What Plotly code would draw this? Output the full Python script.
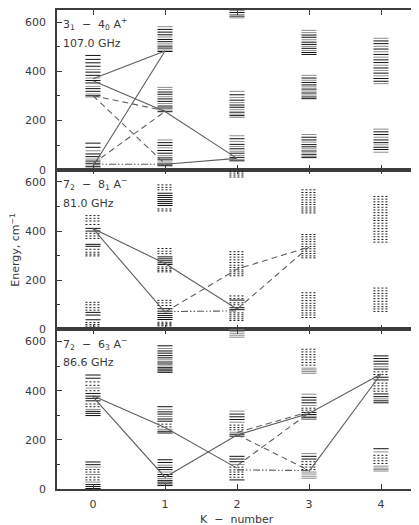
import plotly.graph_objects as go
from plotly.subplots import make_subplots

# ---------------- data ----------------
K_VALUES = [0, 1, 2, 3, 4]
K_LABELS = ["0", "1", "2", "3", "4"]
E_MAJOR = [0, 200, 400, 600]
E_MINOR = [100, 300, 500]
E_LABELS = ["0", "200", "400", "600"]

TITLES = ["3<sub>1</sub>  −  4<sub>0</sub> A<sup>+</sup>",
          "7<sub>2</sub>  −  8<sub>1</sub> A<sup>−</sup>",
          "7<sub>2</sub>  −  6<sub>3</sub> A<sup>−</sup>"]
FREQS = ["107.0 GHz", "81.0 GHz", "86.6 GHz"]

# Panel 1 (107.0 GHz) energy levels, cm^-1, keyed by K
P1_BLACK = {
    0: [465, 449, 435, 421, 397, 384, 363, 353, 330, 319, 301, 108, 91, 64, 53, 35, 26, 12, 5],
    1: [571, 560, 549, 530, 521, 503, 495, 481, 316, 307, 288, 278, 259, 251, 236, 110, 99, 78, 67, 48, 40, 23, 16],
    2: [625, 640, 305, 283, 263, 254, 234, 220, 126, 103, 85, 67, 50, 36],
    3: [548, 539, 519, 510, 494, 477, 469, 373, 355, 345, 328, 312, 296, 289, 132, 121, 102, 93, 76, 61, 49],
    4: [524, 513, 491, 469, 447, 436, 414, 393, 371, 360, 154, 143, 121, 110, 91, 82],
}
P1_GRAY = {
    0: [408, 373, 339, 308, 296, 77, 43, 19],
    1: [582, 540, 512, 487, 335, 326, 297, 269, 243, 121, 89, 57, 31],
    2: [618, 632, 648, 319, 294, 273, 244, 226, 213, 138, 115, 94, 75, 58, 42],
    3: [567, 558, 529, 502, 485, 384, 364, 337, 320, 304, 143, 112, 85, 68, 54],
    4: [535, 502, 480, 458, 425, 404, 382, 350, 165, 132, 101, 71],
}
P1_DOTTED = {}

# Panel 2 (81.0 GHz)
P2_BLACK = {
    0: [411, 400, 346, 338, 69, 58, 39],
    1: [554, 545, 537, 528, 520, 512, 504, 295, 287, 279, 271, 264, 84, 74, 65, 56, 48, 40],
    2: [119, 88, 80],
}
P2_GRAY = {}
P2_DOTTED = {
    0: [463, 452, 441, 427, 391, 380, 370, 326, 314, 306, 299, 110, 100, 88, 78, 28, 20, 13, 7, 2],
    1: [588, 578, 568, 490, 482, 329, 318, 308, 254, 247, 240, 234, 118, 108, 97, 29, 23, 18, 14],
    2: [620, 628, 636, 644, 316, 305, 294, 283, 272, 261, 252, 242, 234, 226, 218,
        136, 125, 108, 100, 67, 59, 51, 43, 36],
    3: [568, 557, 547, 537, 527, 517, 508, 498, 490, 482, 474,
        386, 377, 367, 357, 347, 337, 328, 318, 309, 299, 291,
        149, 138, 128, 117, 106, 96, 87, 77, 67, 58, 48],
    4: [541, 530, 519, 508, 497, 486, 475, 464, 453, 443, 432, 421, 410, 399, 388, 377, 366, 355,
        168, 157, 146, 136, 125, 114, 103, 92, 83, 73],
}

# Panel 3 (86.6 GHz)
P3_BLACK = {
    0: [464, 451, 389, 378, 369, 359, 316, 308, 299, 110, 99, 18, 10, 2],
    1: [583, 562, 553, 543, 534, 517, 509, 494, 488, 481, 475, 335, 314, 305, 285, 276, 235, 228,
        119, 108, 88, 79, 59, 51, 35, 28, 21, 14],
    2: [305, 294, 283, 223, 215, 133, 122, 111, 37],
    3: [373, 362, 351, 312, 303, 290, 133, 122],
    4: [542, 531, 520, 509, 488, 455, 444, 387, 376, 359, 351, 164],
}
P3_GRAY = {
    0: [411, 324, 89, 59, 28],
    1: [572, 526, 501, 324, 295, 243, 97, 69, 43],
    2: [618, 626, 634, 642, 650, 317, 272, 231, 100],
    3: [492, 485, 478, 471, 386, 340, 296, 283, 144, 69, 61, 52, 44],
    4: [498, 367, 151, 93, 85, 79, 73],
}
P3_DOTTED = {
    0: [436, 422, 400, 346, 335, 79, 69, 48, 37],
    1: [264, 253],
    2: [260, 250, 241, 89, 78, 69, 59, 48],
    3: [569, 558, 547, 537, 526, 515, 504, 329, 321, 111, 100, 89, 79],
    4: [477, 466, 431, 420, 408, 398, 137, 126, 115, 104],
}

# transitions: (K path, E path)
P1_SOLID = [([0, 1], [370, 483]), ([0, 1, 2], [362, 237, 46]), ([0, 1], [14, 483]), ([1, 2], [22, 46])]
P1_DASHED = [([0, 1], [301, 240]), ([0, 1], [301, 24]), ([0, 1], [24, 237])]
P1_DASHDOT = [([0, 1], [22, 22])]

P2_SOLID = [([0, 1, 2], [410, 268, 83]), ([0, 1], [410, 70])]
P2_DASHED = [([1, 2, 3], [70, 245, 335]), ([2, 3], [82, 335])]
P2_DASHDOT = [([1, 2], [72, 75])]

P3_SOLID = [([0, 1, 2], [380, 250, 85]), ([0, 1, 2, 3, 4], [375, 48, 220, 307, 468]), ([3, 4], [72, 468])]
P3_DASHED = [([2, 3], [230, 314]), ([2, 3], [222, 75]), ([2, 3], [95, 310])]
P3_DASHDOT = [([2, 3], [78, 75])]

PANELS = [
    (P1_BLACK, P1_GRAY, P1_DOTTED, P1_SOLID, P1_DASHED, P1_DASHDOT),
    (P2_BLACK, P2_GRAY, P2_DOTTED, P2_SOLID, P2_DASHED, P2_DASHDOT),
    (P3_BLACK, P3_GRAY, P3_DOTTED, P3_SOLID, P3_DASHED, P3_DASHDOT),
]

# ---------------- drawing ----------------
HALF = 0.105
FONT = "DejaVu Sans, Verdana, sans-serif"
TXT = "#3a3a3a"
AX = "#3c3c3c"

fig = make_subplots(rows=3, cols=1, shared_xaxes=True, vertical_spacing=0)


def level_xy(levels):
    xs, ys = [], []
    for k, energies in levels.items():
        for e in energies:
            xs += [k - HALF, k + HALF, None]
            ys += [e, e, None]
    return xs, ys


def path_xy(paths):
    xs, ys = [], []
    for ks, es in paths:
        xs += list(ks) + [None]
        ys += list(es) + [None]
    return xs, ys


for i, (blk, gry, dot, sol, dsh, dd) in enumerate(PANELS):
    row = i + 1
    for levels, color, dash, w in [(gry, "#8c8c8c", "solid", 1.0),
                                   (dot, "#1a1a1a", "2px,2px", 1.0),
                                   (blk, "#111111", "solid", 1.0)]:
        x, y = level_xy(levels)
        fig.add_trace(go.Scatter(x=x, y=y, mode="lines", hoverinfo="skip",
                                 line=dict(color=color, width=w, dash=dash),
                                 showlegend=False), row=row, col=1)
    for paths, dash in [(sol, "solid"), (dsh, "6px,4px"), (dd, "7px,2px,1.5px,2px,1.5px,2px")]:
        x, y = path_xy(paths)
        fig.add_trace(go.Scatter(x=x, y=y, mode="lines", hoverinfo="skip",
                                 line=dict(color="#5e5e5e", width=1.1, dash=dash),
                                 showlegend=False), row=row, col=1)

    fig.update_xaxes(range=[-0.5, 4.5], tickvals=K_VALUES, ticktext=K_LABELS,
                     ticks="inside", ticklen=5, tickcolor=AX, tickwidth=1,
                     showline=True, linecolor=AX, linewidth=1.5, mirror="ticks",
                     showgrid=False, zeroline=False,
                     showticklabels=(row == 3), ticklabelstandoff=4,
                     tickfont=dict(family=FONT, size=11, color=TXT),
                     row=row, col=1)
    fig.update_yaxes(range=[0, 650], tickvals=E_MAJOR, ticktext=E_LABELS,
                     ticks="inside", ticklen=5, tickcolor=AX, tickwidth=1,
                     minor=dict(tickvals=E_MINOR, ticks="inside", ticklen=3, tickcolor=AX),
                     showline=True, linecolor=AX, linewidth=1.5, mirror="ticks",
                     showgrid=False, zeroline=False, ticklabelstandoff=7,
                     tickfont=dict(family=FONT, size=11, color=TXT),
                     row=row, col=1)

    yref = "y" if row == 1 else f"y{row}"
    xref = "x" if row == 1 else f"x{row}"
    fig.add_annotation(x=-0.44, y=592, xref=xref, yref=yref, text=TITLES[i],
                       showarrow=False, xanchor="left", yanchor="middle",
                       font=dict(family=FONT, size=11, color=TXT))
    fig.add_annotation(x=-0.44, y=514, xref=xref, yref=yref, text=FREQS[i],
                       showarrow=False, xanchor="left", yanchor="middle",
                       font=dict(family=FONT, size=11, color=TXT))

fig.add_annotation(x=-0.116, y=0.5, xref="paper", yref="paper",
                   text="Energy, cm<sup>−1</sup>", textangle=-90, showarrow=False,
                   xanchor="center", yanchor="middle",
                   font=dict(family=FONT, size=11, color=TXT))
fig.add_annotation(x=0.5, y=-0.064, xref="paper", yref="paper",
                   text="K  −  number", showarrow=False,
                   xanchor="center", yanchor="middle",
                   font=dict(family=FONT, size=11, color=TXT))

# the page body adds an 8px offset, so the figure itself starts at (8, 8)
fig.update_layout(width=411, height=517, margin=dict(l=49, r=1, t=0, b=36),
                  paper_bgcolor="white", plot_bgcolor="white")

fig.write_html("out.html")
